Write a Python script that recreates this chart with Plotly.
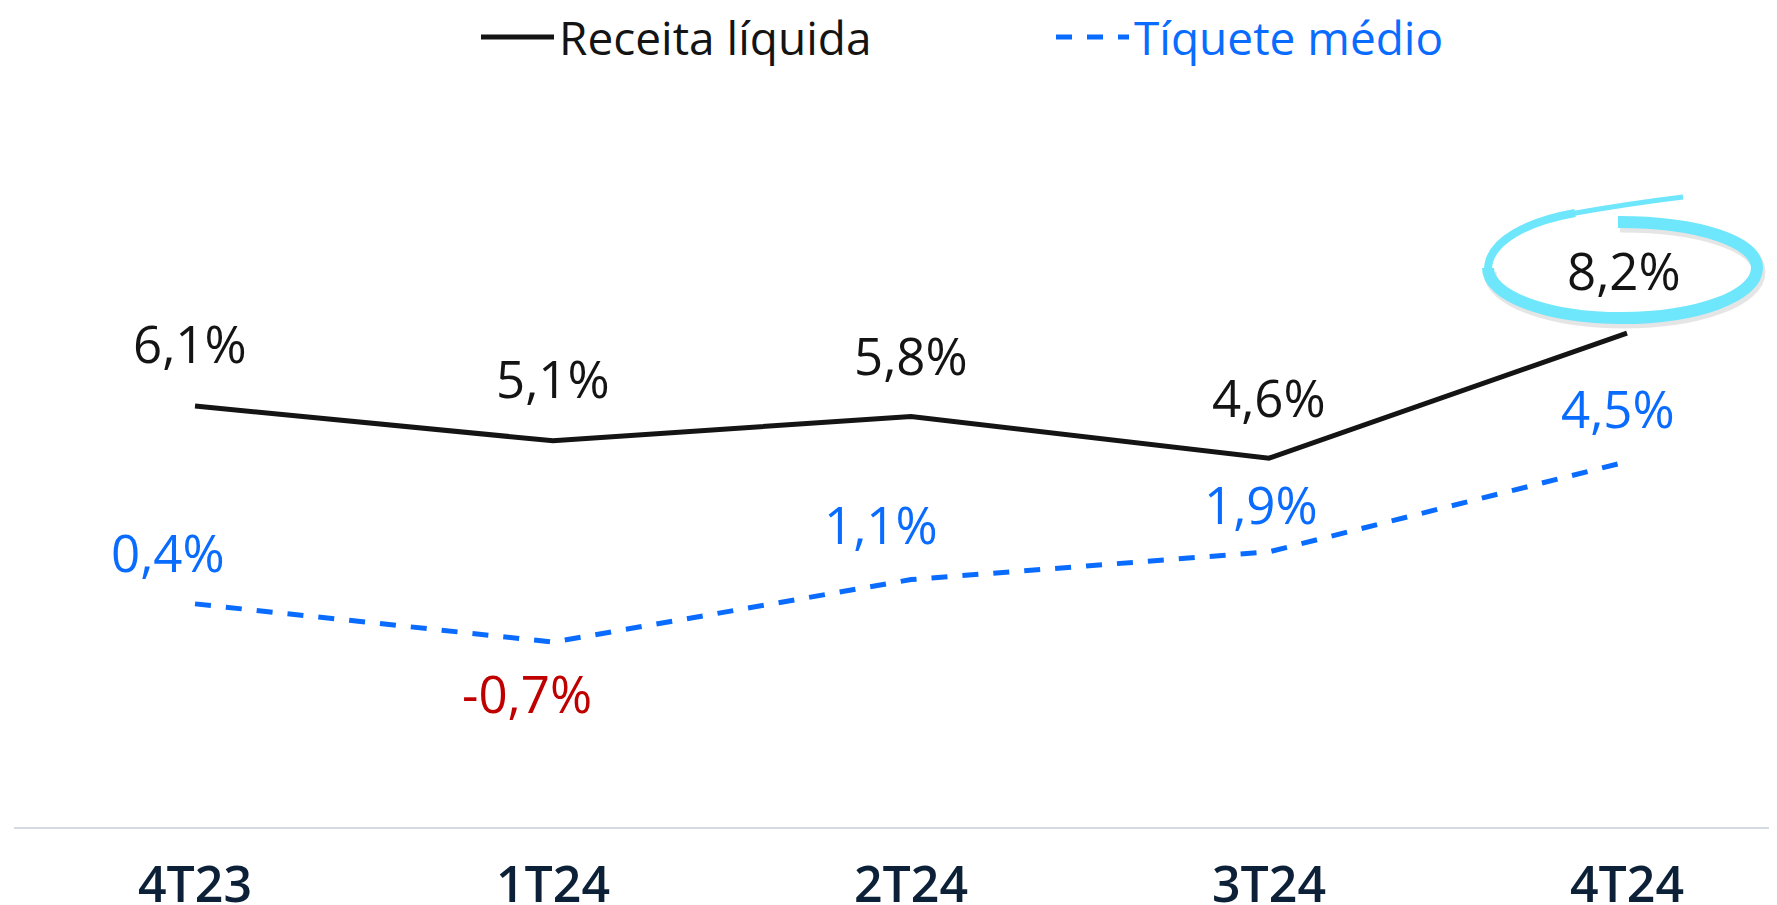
import plotly.graph_objects as go

# ---- data ----
categories = ["4T23", "1T24", "2T24", "3T24", "4T24"]
receita_liquida = [6.1, 5.1, 5.8, 4.6, 8.2]
tiquete_medio = [0.4, -0.7, 1.1, 1.9, 4.5]
series_names = ["Receita líquida", "Tíquete médio"]

# ---- style ----
BLACK = "#141414"
BLUE = "#0a6cff"
RED = "#c00000"
NAVY = "#0c2037"
CYAN = "#6ee6fc"
FONT = "'Open Sans', 'Noto Sans', sans-serif"

OFF = 8                       # page body margin
W, H = 1777 - OFF, 905 - OFF
ML, MR, MT, MB = 14 - OFF, 0, 0, 78
PW, PH = W - ML - MR, H - MT - MB
X_STEP = 358.0                # px per category
X0_PX = 195 - OFF             # px of first category (figure coords)
Y_PER = 34.7                  # px per unit
Y_MIN = -6.03

x_idx = list(range(len(categories)))
x_range = [-(X0_PX - ML) / X_STEP, (W - MR - X0_PX) / X_STEP]
y_range = [Y_MIN, Y_MIN + PH / Y_PER]


def fmt(v):
    return f"{v:.1f}%".replace(".", ",")


fig = go.Figure()
fig.add_trace(go.Scatter(
    x=x_idx, y=receita_liquida, mode="lines", name=series_names[0],
    line=dict(color=BLACK, width=5), hoverinfo="skip"))
fig.add_trace(go.Scatter(
    x=x_idx, y=tiquete_medio, mode="lines",
    name=f"<span style='color:{BLUE}'>{series_names[1]}</span>",
    line=dict(color=BLUE, width=5, dash="16px,15px"), hoverinfo="skip"))

# data label offsets (px)
rec_dx = [-5, 0, 0, 0, -3]
rec_dy = [63, 63, 62, 61, 63]
tiq_dx = [-27, -26, -30, -8, -9]
tiq_dy = [52, -51, 56, 48, 54]
ann = []
for i, v in enumerate(receita_liquida):
    ann.append(dict(x=x_idx[i], y=v, text=fmt(v), showarrow=False,
                    xshift=rec_dx[i], yshift=rec_dy[i], yanchor="middle",
                    font=dict(family=FONT, size=51, color=BLACK)))
for i, v in enumerate(tiquete_medio):
    neg = v < 0
    ann.append(dict(x=x_idx[i], y=v, text=fmt(v), showarrow=False,
                    xshift=tiq_dx[i], yshift=tiq_dy[i], yanchor="middle",
                    font=dict(family=FONT, size=51, color=RED if neg else BLUE)))


def px2paper(px, py):
    # px, py in page (reference) pixels
    fx, fy = px - OFF, py - OFF
    return (fx - ML) / PW, 1 - (fy - MT) / PH


def path_from(points):
    parts = []
    for cmd, pts in points:
        coords = " ".join("{:.5f},{:.5f}".format(*px2paper(x, y)) for x, y in pts)
        parts.append(f"{cmd} {coords}")
    return " ".join(parts)


main_arc = [
    ("M", [(1618, 222)]),
    ("C", [(1700, 222), (1757, 242), (1757, 268)]),
    ("C", [(1757, 296), (1697, 318), (1622, 318)]),
    ("C", [(1547, 318), (1488, 296), (1488, 268)]),
]
upper_arc = [
    ("M", [(1488, 270)]),
    ("C", [(1488, 240), (1530, 221), (1575, 213)]),
]
tail = [
    ("M", [(1570, 214)]),
    ("C", [(1615, 206), (1650, 201), (1683, 197)]),
]
shadow = [(c, [(x + 2, y + 4) for x, y in p]) for c, p in main_arc]

shapes = [
    dict(type="path", xref="paper", yref="paper", path=path_from(shadow),
         line=dict(color="rgba(0,0,0,0.10)", width=13)),
    dict(type="path", xref="paper", yref="paper", path=path_from(main_arc),
         line=dict(color=CYAN, width=12)),
    dict(type="path", xref="paper", yref="paper", path=path_from(upper_arc),
         line=dict(color=CYAN, width=8)),
    dict(type="path", xref="paper", yref="paper", path=path_from(tail),
         line=dict(color=CYAN, width=5)),
]

fig.update_layout(
    width=W, height=H,
    margin=dict(l=ML, r=MR, t=MT, b=MB, autoexpand=False),
    paper_bgcolor="white", plot_bgcolor="white",
    font=dict(family=FONT, size=46, color=BLACK),
    showlegend=True,
    legend=dict(orientation="h", x=(476 - OFF - ML) / PW, xanchor="left",
                y=1 - (37 - OFF) / PH, yanchor="middle",
                font=dict(family=FONT, size=46, color=BLACK),
                itemwidth=73,
                entrywidth=487, entrywidthmode="pixels",
                bgcolor="rgba(0,0,0,0)"),
    xaxis=dict(range=x_range, tickmode="array", tickvals=x_idx, ticktext=categories,
               showgrid=False, zeroline=False, showline=True, linecolor="#d5dbe0",
               linewidth=2, ticks="outside", ticklen=13, tickcolor="rgba(0,0,0,0)",
               automargin=False,
               tickfont=dict(family=FONT, size=50, color=NAVY, weight=600),
               fixedrange=True),
    yaxis=dict(range=y_range, visible=False, showgrid=False, zeroline=False,
               automargin=False, fixedrange=True),
    annotations=ann,
    shapes=shapes,
)

fig.write_html("out.html")
